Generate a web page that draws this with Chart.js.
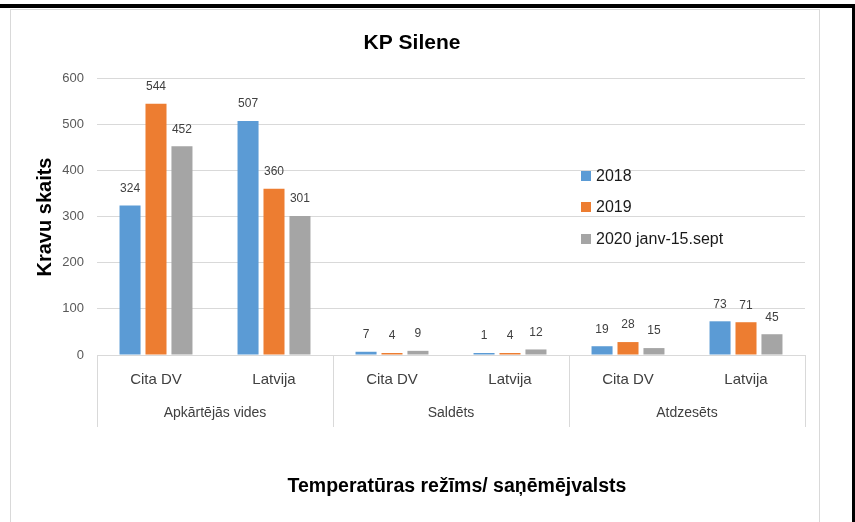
<!DOCTYPE html>
<html>
<head>
<meta charset="utf-8">
<script src="https://cdn.jsdelivr.net/npm/chart.js@4/dist/chart.umd.min.js"></script>
<style>
  html, body { margin: 0; padding: 0; background: #fff; }
  #wrap { position: relative; width: 855px; height: 522px; overflow: hidden; }
  #topbar { position: absolute; left: 0; top: 4px; width: 855px; height: 4px; background: #000; }
  #rightbar { position: absolute; left: 852px; top: 4px; width: 3px; height: 518px; background: #000; }
  #frame { position: absolute; left: 10px; top: 9px; width: 810px; height: 530px; border: 1px solid #d9d9d9; box-sizing: border-box; }
  canvas { position: absolute; left: 0; top: 0; }
</style>
</head>
<body>
<div id="wrap">
  <div id="topbar"></div>
  <div id="rightbar"></div>
  <div id="frame"></div>
  <canvas id="c" width="855" height="522"></canvas>
</div>
<script>
const chartTitle = 'KP Silene';
const yAxisTitle = 'Kravu skaits';
const xAxisTitle = 'Temperatūras režīms/ saņēmējvalsts';
const subCategories = ['Cita DV', 'Latvija', 'Cita DV', 'Latvija', 'Cita DV', 'Latvija'];
const groupCategories = ['Apkārtējās vides', 'Saldēts', 'Atdzesēts'];
const seriesNames = ['2018', '2019', '2020 janv-15.sept'];
const values2018 = [324, 507, 7, 1, 19, 73];
const values2019 = [544, 360, 4, 4, 28, 71];
const values2020 = [452, 301, 9, 12, 15, 45];
const yTicks = [0, 100, 200, 300, 400, 500, 600];

const colors = ['#5b9bd5', '#ed7d31', '#a5a5a5'];
const FONT = "'Liberation Sans', Arial, sans-serif";

const decorPlugin = {
  id: 'decor',
  afterDatasetsDraw(chart) {
    const ctx = chart.ctx;
    const ca = chart.chartArea;
    const xs = chart.scales.x;
    ctx.save();
    // data labels
    ctx.font = '12px ' + FONT;
    ctx.fillStyle = '#404040';
    ctx.textAlign = 'center';
    ctx.textBaseline = 'middle';
    chart.data.datasets.forEach((ds, di) => {
      const meta = chart.getDatasetMeta(di);
      meta.data.forEach((bar, i) => {
        ctx.fillText(String(ds.data[i]), bar.x, bar.y - 17);
      });
    });
    // x axis line
    ctx.strokeStyle = '#d9d9d9';
    ctx.lineWidth = 1;
    ctx.beginPath();
    ctx.moveTo(ca.left, ca.bottom + 0.5);
    ctx.lineTo(ca.right, ca.bottom + 0.5);
    ctx.stroke();
    // separators
    const seps = [ca.left];
    for (let g = 1; g < groupCategories.length; g++) {
      const a = xs.getPixelForValue(g * 2 - 1);
      const b = xs.getPixelForValue(g * 2);
      seps.push((a + b) / 2);
    }
    seps.push(ca.right);
    ctx.beginPath();
    seps.forEach(x => {
      const px = Math.round(x) + 0.5;
      ctx.moveTo(px, ca.bottom);
      ctx.lineTo(px, ca.bottom + 72);
    });
    ctx.stroke();
    // sub labels
    ctx.fillStyle = '#404040';
    ctx.font = '15px ' + FONT;
    subCategories.forEach((lab, i) => {
      ctx.fillText(lab, xs.getPixelForValue(i), ca.bottom + 25);
    });
    // group labels
    ctx.font = '14px ' + FONT;
    groupCategories.forEach((lab, g) => {
      const x = (xs.getPixelForValue(g * 2) + xs.getPixelForValue(g * 2 + 1)) / 2;
      ctx.fillText(lab, x, ca.bottom + 58);
    });
    // title
    ctx.fillStyle = '#000';
    ctx.font = 'bold 21px ' + FONT;
    ctx.fillText(chartTitle, 412, 43);
    // x axis title
    ctx.font = 'bold 19.5px ' + FONT;
    ctx.fillText(xAxisTitle, 457, 487);
    // y axis title
    ctx.save();
    ctx.translate(45, 217);
    ctx.rotate(-Math.PI / 2);
    ctx.font = 'bold 20px ' + FONT;
    ctx.fillText(yAxisTitle, 0, 0);
    ctx.restore();
    // legend
    ctx.font = '16px ' + FONT;
    ctx.textAlign = 'left';
    const ly = [176, 207, 239];
    chart.data.datasets.forEach((ds, di) => {
      ctx.fillStyle = ds.backgroundColor;
      ctx.fillRect(581, ly[di] - 5, 10, 10);
      ctx.fillStyle = '#1a1a1a';
      ctx.fillText(ds.label, 596, ly[di] + 1);
    });
    ctx.restore();
  }
};

new Chart(document.getElementById('c'), {
  type: 'bar',
  data: {
    labels: subCategories,
    datasets: [
      { label: seriesNames[0], data: values2018, backgroundColor: colors[0] },
      { label: seriesNames[1], data: values2019, backgroundColor: colors[1] },
      { label: seriesNames[2], data: values2020, backgroundColor: colors[2] }
    ]
  },
  options: {
    responsive: false,
    animation: false,
    devicePixelRatio: 1,
    layout: { padding: { left: 10, right: 50, top: 78, bottom: 0 } },
    datasets: { bar: { categoryPercentage: 0.66, barPercentage: 0.81, minBarLength: 2 } },
    plugins: { legend: { display: false }, title: { display: false }, tooltip: { enabled: false } },
    scales: {
      x: {
        grid: { display: false },
        border: { display: false },
        ticks: { display: false },
        afterFit(s) { s.height = 167; }
      },
      y: {
        min: 0,
        max: 600,
        afterBuildTicks(s) { s.ticks = yTicks.map(v => ({ value: v })); },
        grid: { color: '#d9d9d9', drawTicks: false },
        border: { display: false },
        ticks: { font: { size: 13, family: FONT }, color: '#595959', padding: 13 },
        afterFit(s) { s.width = 87; }
      }
    }
  },
  plugins: [decorPlugin]
});
</script>
</body>
</html>
